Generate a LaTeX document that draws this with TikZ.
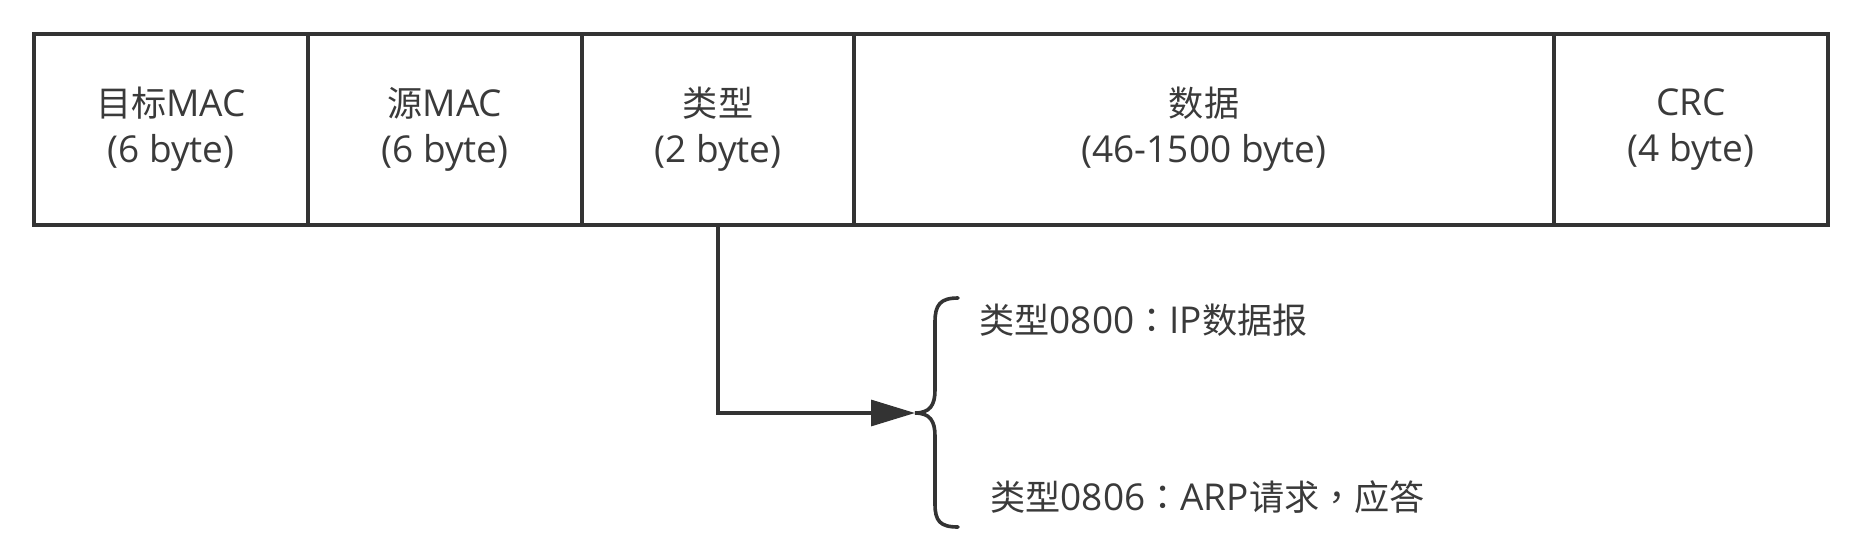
\documentclass[tikz,border=0pt]{standalone}
\usepackage{fontspec}
\setmainfont{Open Sans}
\newfontfamily\cjkf{Noto Sans CJK SC}[Scale=0.95]
\newfontfamily\cjkpf{Noto Sans CJK TC}[Scale=0.95]
\newcommand{\cjk}[1]{{\cjkf #1}}
\newcommand{\cjkp}[1]{{\cjkpf #1}}
\usetikzlibrary{arrows.meta,calc}
\definecolor{ink}{HTML}{333333}
\definecolor{txt}{HTML}{3A3A3A}
\begin{document}
\begin{tikzpicture}[x=0.5pt,y=-0.5pt,
  cell/.style={draw=ink, line width=2pt, rectangle, inner sep=0pt, minimum height=95.5pt,
    align=center, text=txt, font=\fontsize{18.5}{23}\selectfont},
  lbl/.style={anchor=west, inner sep=0pt, text=txt, font=\fontsize{18.5}{23}\selectfont},
  conn/.style={draw=ink, line width=1.6pt},
  bracestyle/.style={draw=ink, line width=1.8pt, line cap=round}]
\useasboundingbox (0,0) rectangle (1874,552);
% frame cells
\node[cell, minimum width=137pt] (c1) at (171,129.5) {\cjk{目标}MAC\\(6 byte)};
\node[cell, minimum width=137pt] (c2) at (445,129.5) {\cjk{源}MAC\\(6 byte)};
\node[cell, minimum width=136pt] (c3) at (718,129.5) {\cjk{类型}\\(2 byte)};
\node[cell, minimum width=350pt] (c4) at (1204,129.5) {\cjk{数据}\\(46-1500 byte)};
\node[cell, minimum width=137pt] (c5) at (1691,129.5) {CRC\\(4 byte)};
% brace
\coordinate (tip) at (915,413);
\draw[bracestyle] (958,298) .. controls (940,298) and (935,305) .. (935,322)
  -- (935,390) .. controls (935,405) and (930,413) .. (tip)
  .. controls (930,413) and (935,421) .. (935,436)
  -- (935,504) .. controls (935,521) and (940,527) .. (958,527);
% labels
\node[lbl] (t1) at (979,320) {\cjk{类型}0800\cjkp{：}IP\cjk{数据报}};
\node[lbl] (t2) at (990,497) {\cjk{类型}0806\cjkp{：}ARP\cjk{请求}\cjkp{，}\cjk{应答}};
% connector
\draw[conn, -{Triangle[length=22pt,width=13pt]}] (c3.south) |- (tip);
\end{tikzpicture}
\end{document}
